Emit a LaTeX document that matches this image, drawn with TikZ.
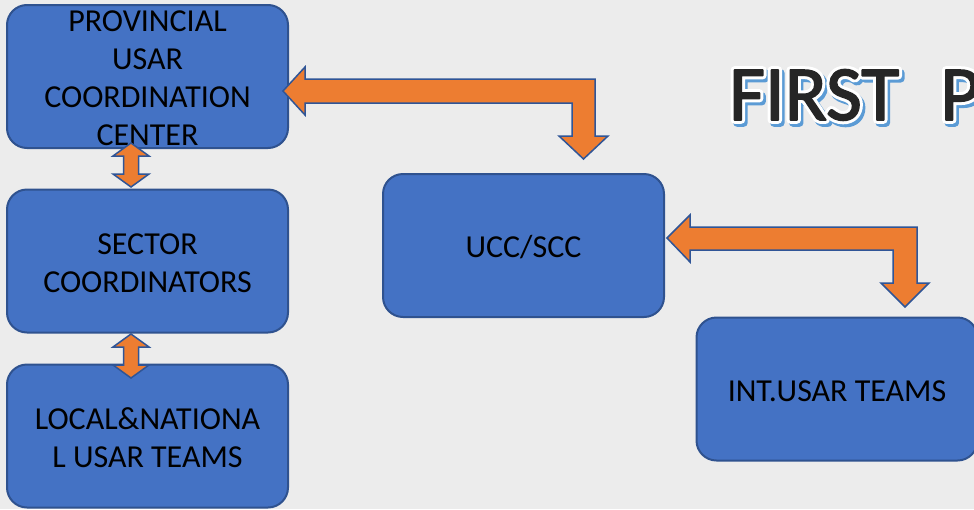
\documentclass[tikz,border=0pt]{standalone}
\usepackage{fontspec}
\setmainfont{Carlito}
\definecolor{bgc}{HTML}{ECECEC}
\definecolor{boxblue}{HTML}{4472C4}
\definecolor{boxedge}{HTML}{2F528F}
\definecolor{arrfill}{HTML}{ED7D31}
\definecolor{arredge}{HTML}{2F5597}
\definecolor{titlegray}{HTML}{262626}
\definecolor{shadowblue}{HTML}{5B9BD5}
\newcommand\strokedtitle[3]{\special{pdf:literal direct #1 RG #2 w 1 j 2 Tr}#3\special{pdf:literal direct 0 Tr 0.4 w}}
\begin{document}
\begin{tikzpicture}[x=1pt,y=-1pt,
  boxshape/.style={draw=boxedge, fill=boxblue, line width=2pt, rounded corners=20pt,
    minimum width=281pt, minimum height=143pt, inner sep=0pt},
  boxtext/.style={align=center, text=black, inner sep=0pt, yshift=-2pt, font=\fontsize{32}{38}\selectfont},
  blockarrow/.style={fill=arrfill, draw=arredge, line width=1.5pt, line join=miter},
  titletext/.style={anchor=base west, inner sep=0pt, font=\fontsize{78}{90}\selectfont}]
\fill[bgc] (0,0) rectangle (974,509);
\useasboundingbox (0,0) rectangle (974,509);
\clip (0,0) rectangle (974,509);

% title
\node[titletext, text=shadowblue] (titleshadow) at (731.5,123) {\strokedtitle{0.357 0.608 0.835}{7.5}{FIRST\hspace{41pt}P}};
\node[titletext, text=white] (titleoutline) at (729,120) {\strokedtitle{1 1 1}{7.5}{FIRST\hspace{41pt}P}};
\node[titletext, text=titlegray] (title) at (729,120) {\strokedtitle{0.149 0.149 0.149}{1.5}{FIRST\hspace{41pt}P}};

% boxes
\node[boxshape] (prov) at (147.5,76.5) {};
\node[boxtext] (provt) at (prov.center) {PROVINCIAL\\USAR\\COORDINATION\\CENTER};
\node[boxshape] (sect) at (147.5,261) {};
\node[boxtext] (sectt) at (sect.center) {SECTOR\\COORDINATORS};
\node[boxshape] (local) at (147.5,436) {};
\node[boxtext] (localt) at (local.center) {LOCAL\&NATIONA\\L USAR TEAMS};
\node[boxshape] (ucc) at (523.5,245.5) {};
\node[boxtext] (ucct) at (ucc.center) {UCC/SCC};
\node[boxshape] (intl) at (837,389) {};
\node[boxtext] (intlt) at (intl.center) {INT.USAR TEAMS};

% vertical double arrows
\draw[blockarrow] (131,143) -- (149,156) -- (138.5,156) -- (138.5,174) -- (149,174) -- (131,187)
  -- (113,174) -- (123.5,174) -- (123.5,156) -- (113,156) -- cycle;
\draw[blockarrow] (131,334) -- (149,347) -- (138.5,347) -- (138.5,365) -- (149,365) -- (131,378)
  -- (113,365) -- (123.5,365) -- (123.5,347) -- (113,347) -- cycle;

% bent double arrows
\draw[blockarrow] (283,91) -- (305,67) -- (305,79) -- (595,79) -- (595,136) -- (608,136) -- (583.5,159)
  -- (559,136) -- (572,136) -- (572,103) -- (305,103) -- (305,115) -- cycle;
\draw[blockarrow] (667,238) -- (690,215) -- (690,227) -- (917,227) -- (917,283) -- (929,283) -- (905,307)
  -- (881,283) -- (893,283) -- (893,250) -- (690,250) -- (690,262) -- cycle;
\end{tikzpicture}
\end{document}
